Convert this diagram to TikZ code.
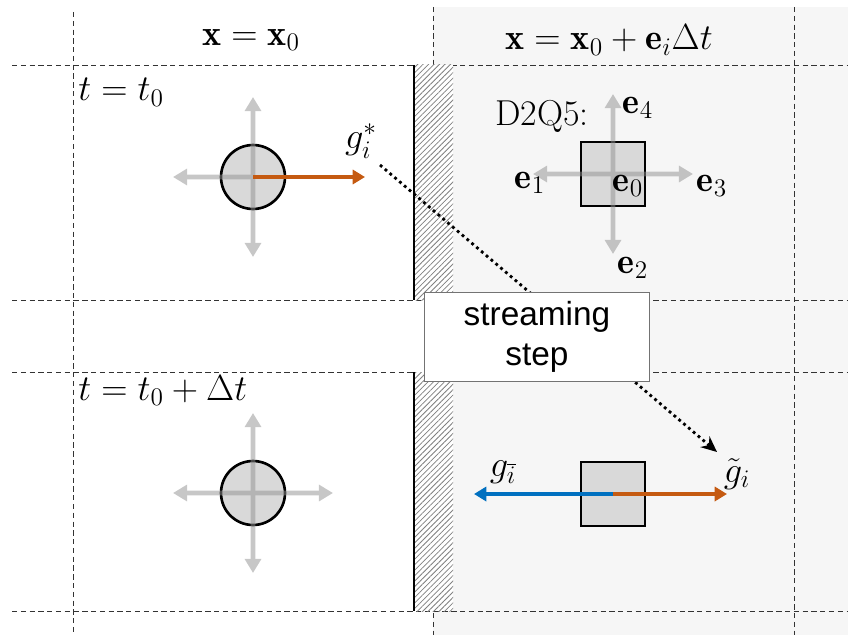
\documentclass[tikz,border=0pt]{standalone}
\usepackage{fontspec}
\usetikzlibrary{arrows.meta,patterns.meta}
\newfontfamily\boxfont{Liberation Sans}
\definecolor{outflux}{HTML}{C55A11}
\definecolor{backflux}{HTML}{0070C0}
\definecolor{cellgray}{HTML}{D9D9D9}
\definecolor{bggray}{HTML}{F6F6F6}
\definecolor{velgray}{HTML}{909090}

\begin{document}
\begin{tikzpicture}[x=0.02cm,y=-0.02cm,
        font=\fontsize{20.5}{24}\selectfont,
        gridline/.style={dash pattern=on 3pt off 2pt, line width=0.5pt, black!80},
        cell/.style={draw=black, line width=1.5pt, fill=cellgray, inner sep=0pt, minimum size=1.28cm},
        velarrow/.style={-{Triangle[length=8pt,width=9pt]}, line width=2.8pt, velgray},
        flux/.style={-{Triangle[length=7pt,width=8pt]}, line width=2.8pt, #1},
        wallhatch/.style={fill=white, pattern={Lines[angle=45,distance=2.2pt,line width=0.45pt]}, pattern color=gray},
        stepbox/.style={draw=black!55, line width=1pt, fill=white, minimum width=4.5cm, minimum height=1.78cm, align=center, font=\boxfont\fontsize{19}{23}\selectfont}]

    \useasboundingbox (0,0) rectangle (848,635);
    \fill[bggray] (433,7) rectangle (848,635);

    % grid
    \foreach \y in {65,300,372,611} \draw[gridline] (12,\y) -- (848,\y);
    \draw[gridline] (73,12) -- (73,635);
    \draw[gridline] (433,7) -- (433,635);
    \draw[gridline] (794,7) -- (794,635);

    % wall
    \fill[white] (413,65) rectangle (453,300); \fill[wallhatch] (413,65) rectangle (453,300);
    \fill[white] (413,372) rectangle (453,611); \fill[wallhatch] (413,372) rectangle (453,611);
    \draw[line width=1.7pt] (414,65) -- (414,300); \draw[line width=1.7pt] (414,372) -- (414,611);

    \node (hleft) at (251,40) {$\mathbf{x}=\mathbf{x}_0$};
    \node (hright) at (609,40) {$\mathbf{x}=\mathbf{x}_0+\mathbf{e}_i\Delta t$};
    \node[anchor=base west, inner sep=0pt] (tone) at (78,101) {$t=t_0$};
    \node[anchor=base west, inner sep=0pt] (ttwo) at (78,400) {$t=t_0+\Delta t$};

    % cells
    \node[cell, circle, minimum size=1.28cm] (srcold) at (253,177) {};
    \node[cell, circle, minimum size=1.28cm] (srcnew) at (253,493) {};
    \node[cell] (lattice) at (613,174) {};
    \node[cell] (dest) at (613,494) {};

    \begin{scope}[transparency group, opacity=0.5]
        \foreach \c in {srcold,srcnew,lattice} {
            \draw[velarrow] (\c.center) -- ++(-80,0);
            \draw[velarrow] (\c.center) -- ++(0,80);
            \draw[velarrow] (\c.center) -- ++(0,-80);
        }
        \foreach \c in {srcnew,lattice} \draw[velarrow] (\c.center) -- ++(80,0);
    \end{scope}

    \coordinate (gout) at (365,177);
    \coordinate (gback) at (474,494);
    \coordinate (gtilde) at (727,494);
    \draw[flux=outflux] (srcold.center) -- (gout);
    \draw[flux=backflux] (dest.center) -- (gback);
    \draw[flux=outflux] (dest.center) -- (gtilde);

    \node (gstar) at (361,141) {$g_i^*$};
    \node (gbar) at (503,472) {$g_{\overline{i}}$};
    \node (gtl) at (737,474) {$\tilde{g}_i$};

    \node (dtq) at (542,116) {D2Q5:};
    \node (e4) at (638,108) {$\mathbf{e}_4$};
    \node (e1) at (530,183) {$\mathbf{e}_1$};
    \node (e0) at (628,186) {$\mathbf{e}_0$};
    \node (e3) at (712,186) {$\mathbf{e}_3$};
    \node (e2) at (633,268) {$\mathbf{e}_2$};

    % streaming
    \coordinate (sfrom) at (380,165);
    \coordinate (sto) at (717,452);
    \draw[dotted, line width=1.6pt, -{Stealth[length=9pt,width=8pt]}] (sfrom) -- (sto);
    \node[stepbox] (stream) at (537,337) {streaming\\step};

\end{tikzpicture}
\end{document}
